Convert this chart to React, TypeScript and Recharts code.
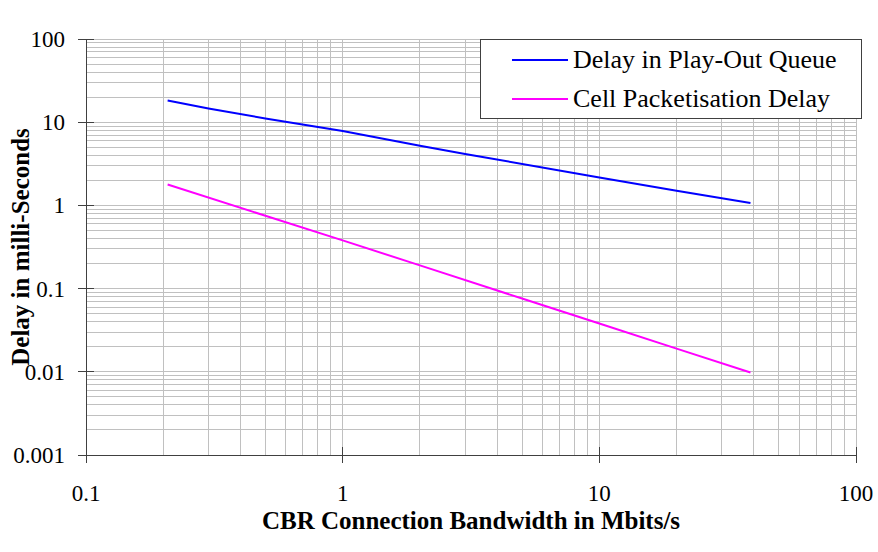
import React from 'react';
import { LineChart, Line, XAxis, YAxis, ReferenceLine, Legend } from 'recharts';

// values (log-log chart)
const playOutBandwidth = [0.208, 0.3, 0.5, 1, 2, 3, 10, 20, 38.8];
const playOutDelay = [18.2, 14.6, 11.1, 7.85, 5.2, 4.15, 2.17, 1.5, 1.07];

const packetBandwidth = [0.208, 0.5, 1, 2, 5, 10, 20, 38.8];
const packetDelay = [1.78, 0.75, 0.38, 0.19, 0.076, 0.038, 0.019, 0.0098];

const seriesNames = ['Delay in Play-Out Queue', 'Cell Packetisation Delay'];

const xTicks = [0.1, 1, 10, 100];
const yTicks = [0.001, 0.01, 0.1, 1, 10, 100];

// minor gridlines of the log-log grid
const xGrid = [
  0.2, 0.3, 0.4, 0.5, 0.6, 0.7, 0.8, 0.9,
  1, 2, 3, 4, 5, 6, 7, 8, 9,
  10, 20, 30, 40, 50, 60, 70, 80, 90, 100,
];
const yGrid = [
  0.002, 0.003, 0.004, 0.005, 0.006, 0.007, 0.008, 0.009,
  0.01, 0.02, 0.03, 0.04, 0.05, 0.06, 0.07, 0.08, 0.09,
  0.1, 0.2, 0.3, 0.4, 0.5, 0.6, 0.7, 0.8, 0.9,
  1, 2, 3, 4, 5, 6, 7, 8, 9,
  10, 20, 30, 40, 50, 60, 70, 80, 90, 100,
];

const playOutData = playOutBandwidth.map((x, i) => ({ x, y: playOutDelay[i] }));
const packetData = packetBandwidth.map((x, i) => ({ x, y: packetDelay[i] }));

const FONT = '"Times New Roman", "Liberation Serif", serif';
const AXIS = '#404040';
const GRID = '#c0c0c0';
const TS = 8;
const TM_X = 20;
const TM_Y = 13;

const XTick = (props: any) => {
  const { x, y, payload } = props;
  const axisY = y - TS - TM_X;
  return (
    <g>
      <line x1={x} x2={x} y1={axisY - 8} y2={axisY + 8} stroke={AXIS} shapeRendering="crispEdges" />
      <text x={x} y={y + 18} textAnchor="middle" style={{ fontFamily: FONT, fontSize: 23 }} fill="#000">
        {String(payload.value)}
      </text>
    </g>
  );
};

const YTick = (props: any) => {
  const { x, y, payload } = props;
  const axisX = x + TS + TM_Y;
  return (
    <g>
      <line x1={axisX - 8} x2={axisX + 8} y1={y} y2={y} stroke={AXIS} shapeRendering="crispEdges" />
      <text x={x} y={y + 8} textAnchor="end" style={{ fontFamily: FONT, fontSize: 23 }} fill="#000">
        {String(payload.value)}
      </text>
    </g>
  );
};

const XTitle = (props: any) => {
  const vb = props.viewBox;
  return (
    <text x={vb.x + vb.width / 2} y={vb.y + 74} textAnchor="middle" style={{ fontFamily: FONT, fontSize: 25, fontWeight: 'bold' }} fill="#000">
      CBR Connection Bandwidth in Mbits/s
    </text>
  );
};

const YTitle = (props: any) => {
  const vb = props.viewBox;
  const cx = 29;
  const cy = vb.y + vb.height / 2;
  return (
    <text x={cx} y={cy} transform={`rotate(-90 ${cx} ${cy})`} textAnchor="middle" style={{ fontFamily: FONT, fontSize: 25, fontWeight: 'bold' }} fill="#000">
      Delay in milli-Seconds
    </text>
  );
};

const LegendBox = (props: any) => {
  const items = [...(props.payload || [])].sort(
    (a: any, b: any) => seriesNames.indexOf(a.value) - seriesNames.indexOf(b.value)
  );
  return (
    <div
      style={{
        width: 382,
        height: 80,
        boxSizing: 'border-box',
        border: `1px solid ${AXIS}`,
        background: '#fff',
        fontFamily: FONT,
        fontSize: 26,
        color: '#000',
      }}
    >
      {items.map((item: any) => (
        <div key={item.value} style={{ height: 39, display: 'flex', alignItems: 'center', paddingLeft: 31 }}>
          <span style={{ display: 'inline-block', width: 56, height: 2, background: item.color, marginRight: 5 }} />
          <span>{item.value}</span>
        </div>
      ))}
    </div>
  );
};

export default function App() {
  return (
    <div style={{ position: 'absolute', left: 0, top: 0, width: 878, height: 552, background: '#fff' }}>
      <style>{'.recharts-reference-line line, .recharts-cartesian-axis-line { shape-rendering: crispEdges; }'}</style>
      <LineChart width={878} height={552} margin={{ top: 39, right: 22, left: 10, bottom: 22 }}>
        {yGrid.map((v) => (
          <ReferenceLine key={`h${v}`} y={v} stroke={GRID} strokeWidth={1} />
        ))}
        {xGrid.map((v) => (
          <ReferenceLine key={`v${v}`} x={v} stroke={GRID} strokeWidth={1} />
        ))}
        <XAxis
          dataKey="x"
          type="number"
          scale="log"
          domain={[0.1, 100]}
          ticks={xTicks}
          allowDataOverflow
          height={75}
          stroke={AXIS}
          tickLine={false}
          tickSize={TS}
          tickMargin={TM_X}
          tick={<XTick />}
          label={<XTitle />}
        />
        <YAxis
          dataKey="y"
          type="number"
          scale="log"
          domain={[0.001, 100]}
          ticks={yTicks}
          allowDataOverflow
          width={76}
          stroke={AXIS}
          tickLine={false}
          tickSize={TS}
          tickMargin={TM_Y}
          tick={<YTick />}
          label={<YTitle />}
        />
        <Legend
          layout="horizontal"
          verticalAlign="middle"
          align="center"
          wrapperStyle={{ position: 'absolute', left: 480, top: 39, width: 382, height: 80 }}
          content={<LegendBox />}
        />
        <Line
          data={playOutData}
          dataKey="y"
          name={seriesNames[0]}
          stroke="#0000ff"
          strokeWidth={2}
          dot={false}
          type="linear"
          isAnimationActive={false}
        />
        <Line
          data={packetData}
          dataKey="y"
          name={seriesNames[1]}
          stroke="#ff00ff"
          strokeWidth={2}
          dot={false}
          type="linear"
          isAnimationActive={false}
        />
      </LineChart>
    </div>
  );
}
